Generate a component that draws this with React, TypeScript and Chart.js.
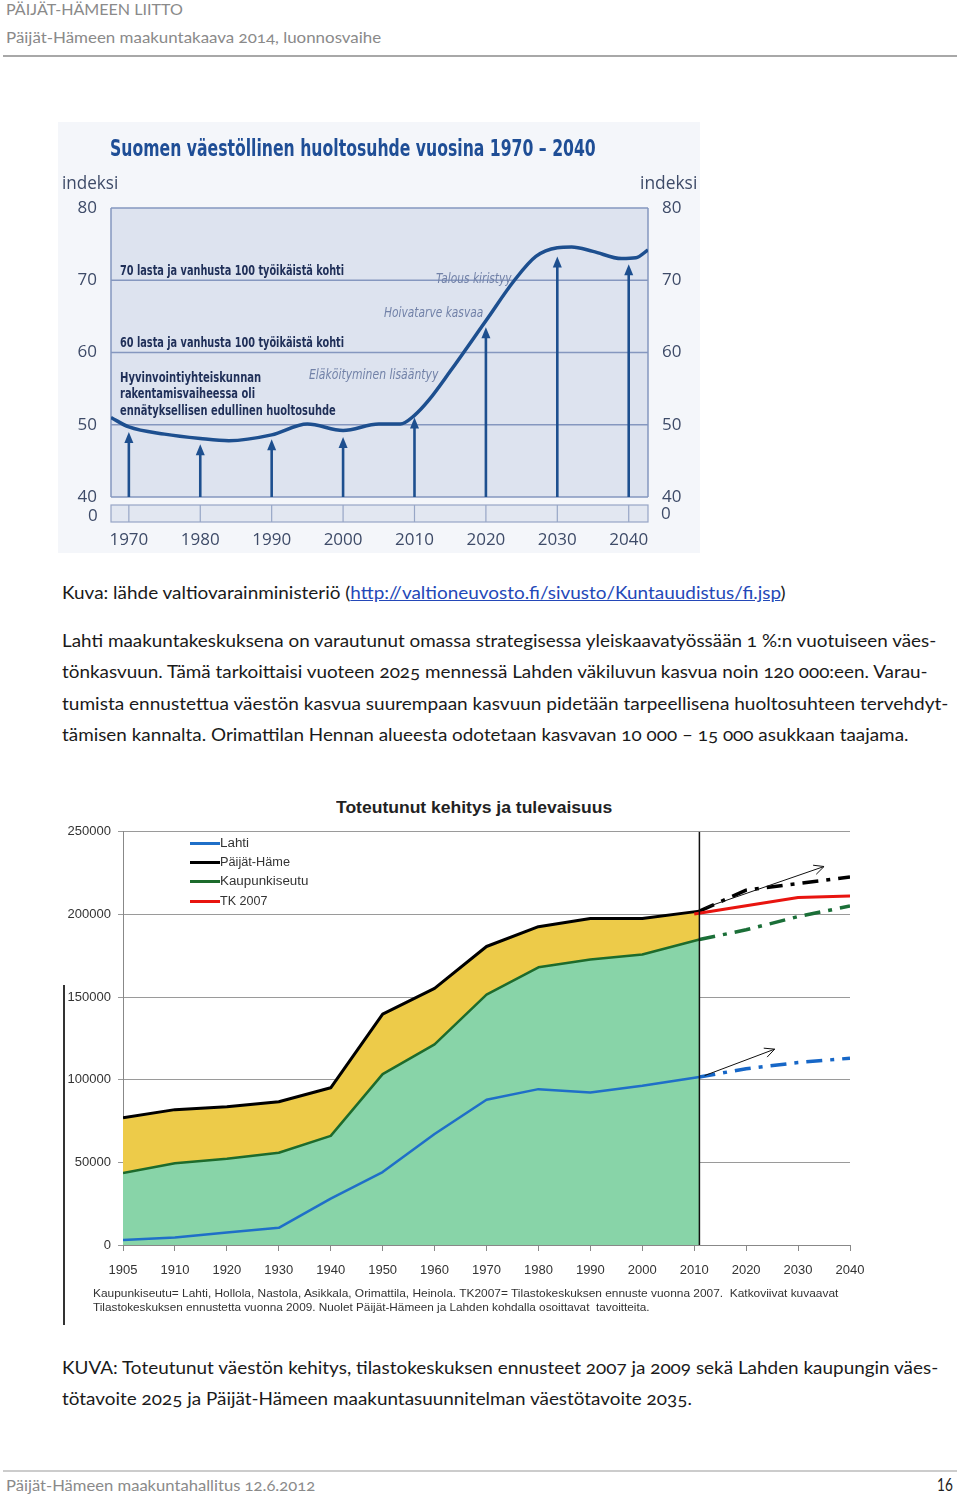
import React, { useEffect, useLayoutEffect, useRef } from 'react';
import { Chart, registerables } from 'chart.js';

Chart.register(...registerables);

const COND = '"Liberation Sans Narrow", "DejaVu Sans Condensed", "Liberation Sans", sans-serif';
const BODY = 'Lato, "Open Sans", sans-serif';
const ARIAL = '"Liberation Sans", Arial, sans-serif';
const MYRIAD = '"Open Sans", "Noto Sans", sans-serif';

// ---------- Chart 1: Suomen väestöllinen huoltosuhde ----------
const ratioYears = [1967.5, 1970, 1975, 1980, 1984, 1990, 1995, 2000, 2005, 2008, 2010, 2012, 2015, 2020, 2024, 2027, 2030, 2032, 2035, 2039, 2041, 2042.7];
const ratioValues = [51.0, 49.7, 48.7, 48.1, 47.8, 48.6, 50.1, 49.2, 50.1, 50.1, 51.3, 53.4, 57.4, 64.4, 70.0, 73.3, 74.5, 74.6, 74.0, 73.0, 73.1, 74.2];
const arrowYears = [1970, 1980, 1990, 2000, 2010, 2020, 2030, 2040];
const arrowTops = [49.0, 47.3, 48.0, 48.3, 51.0, 63.5, 73.3, 72.2];
const ratioYTicks = [40, 50, 60, 70, 80];
const ratioXTicks = [1970, 1980, 1990, 2000, 2010, 2020, 2030, 2040];

// ---------- Chart 2: Toteutunut kehitys ja tulevaisuus ----------
const xLabels = ['1905', '1910', '1920', '1930', '1940', '1950', '1960', '1970', '1980', '1990', '2000', '2010', '2020', '2030', '2040'];
const histYears = [1905, 1910, 1920, 1930, 1940, 1950, 1960, 1970, 1980, 1990, 2000, 2011];
const lahti = [3000, 4600, 7600, 10400, 28100, 44100, 67200, 87900, 94300, 92300, 96300, 101700];
const paijatHame = [77000, 81900, 83700, 86700, 95100, 139700, 155300, 180600, 192600, 197500, 197500, 202000];
const kaupunkiseutu = [43500, 49500, 52200, 55800, 66000, 103400, 121400, 151500, 168000, 172800, 175800, 184800];
const projYears = [2011, 2020, 2030, 2040];
const paijatHame2009 = [202000, 214700, 218700, 222700];
const kaupunkiseutu2009 = [184800, 190700, 198700, 205100];
const lahti2009 = [101700, 106600, 110400, 113000];
const tkYears = [2010, 2020, 2030, 2040];
const tk2007 = [200300, 205300, 210300, 211100];
const nowYear = 2011;
const targetFromYears = [2012, 2012];
const targetFromValues = [204000, 102500];
const targetToYears = [2035, 2025.5];
const targetToValues = [229000, 118500];
const popYTicks = [0, 50000, 100000, 150000, 200000, 250000];

const yearPos = (yr: number) => (yr <= 1910 ? (yr - 1905) / 5 : 1 + (yr - 1910) / 10);
const pts = (xs: number[], ys: number[]) => xs.map((x, i) => ({ x: yearPos(x), y: ys[i] }));

type FitProps = {
  x: number; y: number; w?: number; size: number; font: string; color?: string;
  weight?: number | string; italic?: boolean; onum?: boolean; children: React.ReactNode;
};
function Fit({ x, y, w, size, font, color = '#1a1a1a', weight = 400, italic = false, onum = false, children }: FitProps) {
  const ref = useRef<HTMLDivElement>(null);
  useLayoutEffect(() => {
    const el = ref.current;
    if (!el || !w) return;
    const fit = () => {
      const nat = el.offsetWidth;
      if (nat > 0) el.style.transform = `scaleX(${w / nat})`;
    };
    fit();
    const f = (document as any).fonts;
    if (f && f.ready) f.ready.then(fit);
  }, [w]);
  return (
    <div
      ref={ref}
      style={{
        position: 'absolute', left: x, top: y - size * 0.6, lineHeight: `${size * 1.2}px`,
        fontSize: size, fontFamily: font, color, fontWeight: weight as any,
        fontStyle: italic ? 'italic' : 'normal', whiteSpace: 'pre', transformOrigin: '0 50%',
        fontVariantNumeric: onum ? 'oldstyle-nums' : 'normal',
      }}
    >
      {children}
    </div>
  );
}

const ratioFramePlugin = {
  id: 'ratioFrame',
  beforeDatasetsDraw(chart: any) {
    const { ctx, chartArea: a, scales } = chart;
    const x = scales.x, y = scales.y;
    ctx.save();
    ctx.fillStyle = '#dde3ef';
    ctx.fillRect(a.left, a.top, a.right - a.left, a.bottom - a.top);
    ctx.strokeStyle = '#8597bf';
    ctx.lineWidth = 1.5;
    ratioYTicks.forEach((v) => {
      const py = y.getPixelForValue(v);
      ctx.beginPath(); ctx.moveTo(a.left, py); ctx.lineTo(a.right, py); ctx.stroke();
    });
    ctx.beginPath(); ctx.moveTo(a.left, a.top); ctx.lineTo(a.left, a.bottom); ctx.stroke();
    ctx.beginPath(); ctx.moveTo(a.right, a.top); ctx.lineTo(a.right, a.bottom); ctx.stroke();
    // broken-axis strip
    const sTop = a.bottom + 8, sBot = a.bottom + 25;
    ctx.fillStyle = '#e2e7f1';
    ctx.fillRect(a.left, sTop, a.right - a.left, sBot - sTop);
    ctx.lineWidth = 1.2;
    ctx.strokeStyle = '#97a6c6';
    ctx.strokeRect(a.left, sTop, a.right - a.left, sBot - sTop);
    ratioXTicks.forEach((v) => {
      const px = x.getPixelForValue(v);
      ctx.beginPath(); ctx.moveTo(px, sTop); ctx.lineTo(px, sBot); ctx.stroke();
    });
    // arrows
    ctx.strokeStyle = '#1d4f8f';
    ctx.fillStyle = '#1d4f8f';
    ctx.lineWidth = 2.6;
    arrowYears.forEach((yr, i) => {
      const px = x.getPixelForValue(yr);
      const y0 = y.getPixelForValue(40);
      const y1 = y.getPixelForValue(arrowTops[i]);
      ctx.beginPath(); ctx.moveTo(px, y0); ctx.lineTo(px, y1 + 8); ctx.stroke();
      ctx.beginPath(); ctx.moveTo(px, y1); ctx.lineTo(px - 4.5, y1 + 11); ctx.lineTo(px + 4.5, y1 + 11); ctx.closePath(); ctx.fill();
    });
    ctx.restore();
  },
};

const targetArrowPlugin = {
  id: 'targetArrows',
  afterDatasetsDraw(chart: any) {
    const { ctx, scales } = chart;
    const x = scales.x, y = scales.y;
    ctx.save();
    ctx.strokeStyle = '#111';
    ctx.lineWidth = 1;
    targetFromYears.forEach((fy, i) => {
      const x0 = x.getPixelForValue(yearPos(fy));
      const y0 = y.getPixelForValue(targetFromValues[i]);
      const x1 = x.getPixelForValue(yearPos(targetToYears[i]));
      const y1 = y.getPixelForValue(targetToValues[i]);
      const ang = Math.atan2(y1 - y0, x1 - x0);
      ctx.beginPath(); ctx.moveTo(x0, y0); ctx.lineTo(x1, y1); ctx.stroke();
      ctx.beginPath();
      ctx.moveTo(x1 - 11 * Math.cos(ang - 0.45), y1 - 11 * Math.sin(ang - 0.45));
      ctx.lineTo(x1, y1);
      ctx.lineTo(x1 - 11 * Math.cos(ang + 0.45), y1 - 11 * Math.sin(ang + 0.45));
      ctx.stroke();
    });
    ctx.restore();
  },
};

export default function App() {
  const c1 = useRef<HTMLCanvasElement>(null);
  const c2 = useRef<HTMLCanvasElement>(null);

  useEffect(() => {
    const tickFont1 = { family: MYRIAD, size: 17 };
    const ch1 = new Chart(c1.current as HTMLCanvasElement, {
      type: 'line',
      data: {
        datasets: [
          {
            label: 'Huoltosuhde',
            data: ratioYears.map((x, i) => ({ x, y: ratioValues[i] })),
            borderColor: '#1d4f8f',
            borderWidth: 3.5,
            pointRadius: 0,
            cubicInterpolationMode: 'monotone',
            fill: false,
          },
        ],
      },
      options: {
        animation: false,
        responsive: false,
        maintainAspectRatio: false,
        layout: { padding: { top: 86, left: 0, right: 0, bottom: 0 } },
        plugins: { legend: { display: false }, tooltip: { enabled: false }, title: { display: false } },
        scales: {
          x: {
            type: 'linear', min: 1967.5, max: 2042.7,
            afterBuildTicks: (s: any) => { s.ticks = ratioXTicks.map((v) => ({ value: v })); },
            afterFit: (s: any) => { s.height = 56; },
            grid: { display: false, drawTicks: false },
            border: { display: false },
            ticks: { padding: 33, color: '#3e4b68', font: tickFont1, autoSkip: false, maxRotation: 0, callback: (v: any) => String(v) },
          },
          y: {
            position: 'left', min: 40, max: 80,
            afterBuildTicks: (s: any) => { s.ticks = ratioYTicks.map((v) => ({ value: v })); },
            afterFit: (s: any) => { s.width = 53; },
            grid: { display: false, drawTicks: false },
            border: { display: false },
            ticks: { padding: 14, color: '#3e4b68', font: tickFont1, callback: (v: any) => String(v) },
          },
          y2: {
            position: 'right', min: 40, max: 80,
            afterBuildTicks: (s: any) => { s.ticks = ratioYTicks.map((v) => ({ value: v })); },
            afterFit: (s: any) => { s.width = 52; },
            grid: { display: false, drawTicks: false },
            border: { display: false },
            ticks: { padding: 14, color: '#3e4b68', font: tickFont1, callback: (v: any) => String(v) },
          },
        },
      } as any,
      plugins: [ratioFramePlugin],
    });

    const dashDot = [16, 8, 4, 8];
    const ch2 = new Chart(c2.current as HTMLCanvasElement, {
      type: 'line',
      data: {
        datasets: [
          { label: 'Lahti', data: pts(histYears, lahti), borderColor: '#1f6fc8', borderWidth: 2.5, pointRadius: 0, fill: false, order: 1 },
          { label: 'Päijät-Häme', data: pts(histYears, paijatHame), borderColor: '#000000', borderWidth: 3, pointRadius: 0, fill: 'origin', backgroundColor: '#edcb49', order: 4 },
          { label: 'Kaupunkiseutu', data: pts(histYears, kaupunkiseutu), borderColor: '#1d6b2c', borderWidth: 2.5, pointRadius: 0, fill: 'origin', backgroundColor: '#88d4a8', order: 3 },
          { label: 'TK 2007', data: pts(tkYears, tk2007), borderColor: '#e8140f', borderWidth: 3, pointRadius: 0, fill: false, order: 0 },
          { label: 'Päijät-Häme 2009', data: pts(projYears, paijatHame2009), borderColor: '#000000', borderWidth: 3.5, borderDash: dashDot, pointRadius: 0, fill: false, order: 0 },
          { label: 'Kaupunkiseutu 2009', data: pts(projYears, kaupunkiseutu2009), borderColor: '#1b6f38', borderWidth: 3.5, borderDash: dashDot, pointRadius: 0, fill: false, order: 0 },
          { label: 'Lahti 2009', data: pts(projYears, lahti2009), borderColor: '#1767c7', borderWidth: 3.5, borderDash: dashDot, pointRadius: 0, fill: false, order: 0 },
          { label: 'Nyt', data: [{ x: yearPos(nowYear), y: 0 }, { x: yearPos(nowYear), y: 250000 }], borderColor: '#111111', borderWidth: 1.5, pointRadius: 0, fill: false, order: -1 },
        ],
      },
      options: {
        animation: false,
        responsive: false,
        maintainAspectRatio: false,
        layout: { padding: { top: 7, left: 0, right: 40, bottom: 0 } },
        plugins: { legend: { display: false }, tooltip: { enabled: false }, title: { display: false } },
        elements: { line: { tension: 0, borderCapStyle: 'butt', borderJoinStyle: 'round' } },
        scales: {
          x: {
            type: 'linear', min: 0, max: 14,
            afterBuildTicks: (s: any) => { s.ticks = xLabels.map((_, i) => ({ value: i })); },
            afterFit: (s: any) => { s.height = 45; },
            grid: { display: true, drawOnChartArea: false, drawTicks: true, tickLength: 6, color: '#888888' },
            border: { display: true, color: '#888888', width: 1 },
            ticks: { padding: 12, color: '#333333', font: { family: ARIAL, size: 13 }, autoSkip: false, maxRotation: 0, callback: (v: any) => xLabels[Math.round(v)] ?? '' },
          },
          y: {
            min: 0, max: 250000,
            afterBuildTicks: (s: any) => { s.ticks = popYTicks.map((v) => ({ value: v })); },
            afterFit: (s: any) => { s.width = 63; },
            grid: { display: true, drawTicks: true, tickLength: 5, color: '#9a9a9a', lineWidth: 1 },
            border: { display: true, color: '#888888', width: 1 },
            ticks: { padding: 7, color: '#333333', font: { family: ARIAL, size: 13 }, callback: (v: any) => String(v) },
          },
        },
      } as any,
      plugins: [targetArrowPlugin],
    });

    return () => { ch1.destroy(); ch2.destroy(); };
  }, []);

  const gray = '#8a8a8a';
  const ink = '#1a1a1a';
  const navy = '#1f2f58';
  const soft = '#7282a8';
  const legend = [
    { t: 'Lahti', c: '#1f6fc8', y: 843, w: 29 },
    { t: 'Päijät-Häme', c: '#000000', y: 862, w: 70 },
    { t: 'Kaupunkiseutu', c: '#1d6b2c', y: 881, w: 88 },
    { t: 'TK 2007', c: '#e8140f', y: 901, w: 47 },
  ];

  return (
    <div style={{ position: 'absolute', left: 0, top: 0, width: 960, height: 1497, background: '#ffffff', overflow: 'hidden' }}>
      {/* header */}
      <Fit x={6} y={9} w={177} size={16} font={BODY} color={gray}>PÄIJÄT-HÄMEEN LIITTO</Fit>
      <Fit x={6} y={37} w={375} size={16} font={BODY} color={gray} onum>Päijät-Hämeen maakuntakaava 2014, luonnosvaihe</Fit>
      <div style={{ position: 'absolute', left: 3, top: 55, width: 954, height: 1.5, background: '#a8a8a8' }} />

      {/* chart 1 */}
      <canvas ref={c1} width={642} height={431} style={{ position: 'absolute', left: 58, top: 122, width: 642, height: 431, background: '#f4f6fa' }} />
      <Fit x={110} y={149} w={486} size={23} font={COND} color="#1f4e96" weight={700}>Suomen väestöllinen huoltosuhde vuosina 1970 – 2040</Fit>
      <Fit x={62} y={183} w={56} size={18} font={MYRIAD} color="#3e4b68">indeksi</Fit>
      <Fit x={640} y={183} w={57} size={18} font={MYRIAD} color="#3e4b68">indeksi</Fit>
      <Fit x={88} y={515} size={17} font={MYRIAD} color="#3e4b68">0</Fit>
      <Fit x={661} y={513} size={17} font={MYRIAD} color="#3e4b68">0</Fit>
      <Fit x={120} y={271} w={224} size={14.5} font={COND} color={navy} weight={700}>70 lasta ja vanhusta 100 työikäistä kohti</Fit>
      <Fit x={120} y={343} w={224} size={14.5} font={COND} color={navy} weight={700}>60 lasta ja vanhusta 100 työikäistä kohti</Fit>
      <Fit x={120} y={378} w={141} size={14.5} font={COND} color={navy} weight={700}>Hyvinvointiyhteiskunnan</Fit>
      <Fit x={120} y={394} w={135} size={14.5} font={COND} color={navy} weight={700}>rakentamisvaiheessa oli</Fit>
      <Fit x={120} y={411} w={216} size={14.5} font={COND} color={navy} weight={700}>ennätyksellisen edullinen huoltosuhde</Fit>
      <Fit x={436} y={278} w={76} size={14} font={COND} color={soft} italic>Talous kiristyy</Fit>
      <Fit x={384} y={312} w={99} size={14} font={COND} color={soft} italic>Hoivatarve kasvaa</Fit>
      <Fit x={309} y={374} w={129} size={14} font={COND} color={soft} italic>Eläköityminen lisääntyy</Fit>

      {/* caption & paragraph */}
      <Fit x={62} y={593} w={724} size={18} font={BODY} color={ink}>
        Kuva: lähde valtiovarainministeriö (<span style={{ color: '#2448b8', textDecoration: 'underline' }}>http://valtioneuvosto.fi/sivusto/Kuntauudistus/fi.jsp</span>)
      </Fit>
      <Fit x={62} y={641} w={874} size={18} font={BODY} color={ink} onum>Lahti maakuntakeskuksena on varautunut omassa strategisessa yleiskaavatyössään 1 %:n vuotuiseen väes-</Fit>
      <Fit x={62} y={672} w={866} size={18} font={BODY} color={ink} onum>tönkasvuun. Tämä tarkoittaisi vuoteen 2025 mennessä Lahden väkiluvun kasvua noin 120 000:een. Varau-</Fit>
      <Fit x={62} y={704} w={886} size={18} font={BODY} color={ink} onum>tumista ennustettua väestön kasvua suurempaan kasvuun pidetään tarpeellisena huoltosuhteen tervehdyt-</Fit>
      <Fit x={62} y={735} w={847} size={18} font={BODY} color={ink} onum>tämisen kannalta. Orimattilan Hennan alueesta odotetaan kasvavan 10 000 – 15 000 asukkaan taajama.</Fit>

      {/* chart 2 */}
      <Fit x={336} y={808} w={276} size={16} font={ARIAL} color="#222222" weight={700}>Toteutunut kehitys ja tulevaisuus</Fit>
      <canvas ref={c2} width={830} height={473} style={{ position: 'absolute', left: 60, top: 817, width: 830, height: 473 }} />
      {legend.map((l) => (
        <React.Fragment key={l.t}>
          <div style={{ position: 'absolute', left: 190, top: l.y - 1.5, width: 30, height: 3, background: l.c }} />
          <Fit x={220} y={l.y} w={l.w} size={12} font={ARIAL} color="#333333">{l.t}</Fit>
        </React.Fragment>
      ))}
      <Fit x={93} y={1294} w={745} size={11} font={ARIAL} color="#333333">Kaupunkiseutu= Lahti, Hollola, Nastola, Asikkala, Orimattila, Heinola. TK2007= Tilastokeskuksen ennuste vuonna 2007.  Katkoviivat kuvaavat</Fit>
      <Fit x={93} y={1308} w={557} size={11} font={ARIAL} color="#333333">Tilastokeskuksen ennustetta vuonna 2009. Nuolet Päijät-Hämeen ja Lahden kohdalla osoittavat  tavoitteita.</Fit>
      <div style={{ position: 'absolute', left: 63, top: 985, width: 1.5, height: 340, background: '#333333' }} />

      {/* caption 2 */}
      <Fit x={62} y={1368} w={876} size={18} font={BODY} color={ink} onum>KUVA: Toteutunut väestön kehitys, tilastokeskuksen ennusteet 2007 ja 2009 sekä Lahden kaupungin väes-</Fit>
      <Fit x={62} y={1399} w={630} size={18} font={BODY} color={ink} onum>tötavoite 2025 ja Päijät-Hämeen maakuntasuunnitelman väestötavoite 2035.</Fit>

      {/* footer */}
      <div style={{ position: 'absolute', left: 3, top: 1470, width: 954, height: 1.5, background: '#cccccc' }} />
      <Fit x={6} y={1485} w={309} size={16} font={BODY} color={gray} onum>Päijät-Hämeen maakuntahallitus 12.6.2012</Fit>
      <Fit x={937} y={1485} w={16} size={17} font={BODY} color="#222222">16</Fit>
    </div>
  );
}
